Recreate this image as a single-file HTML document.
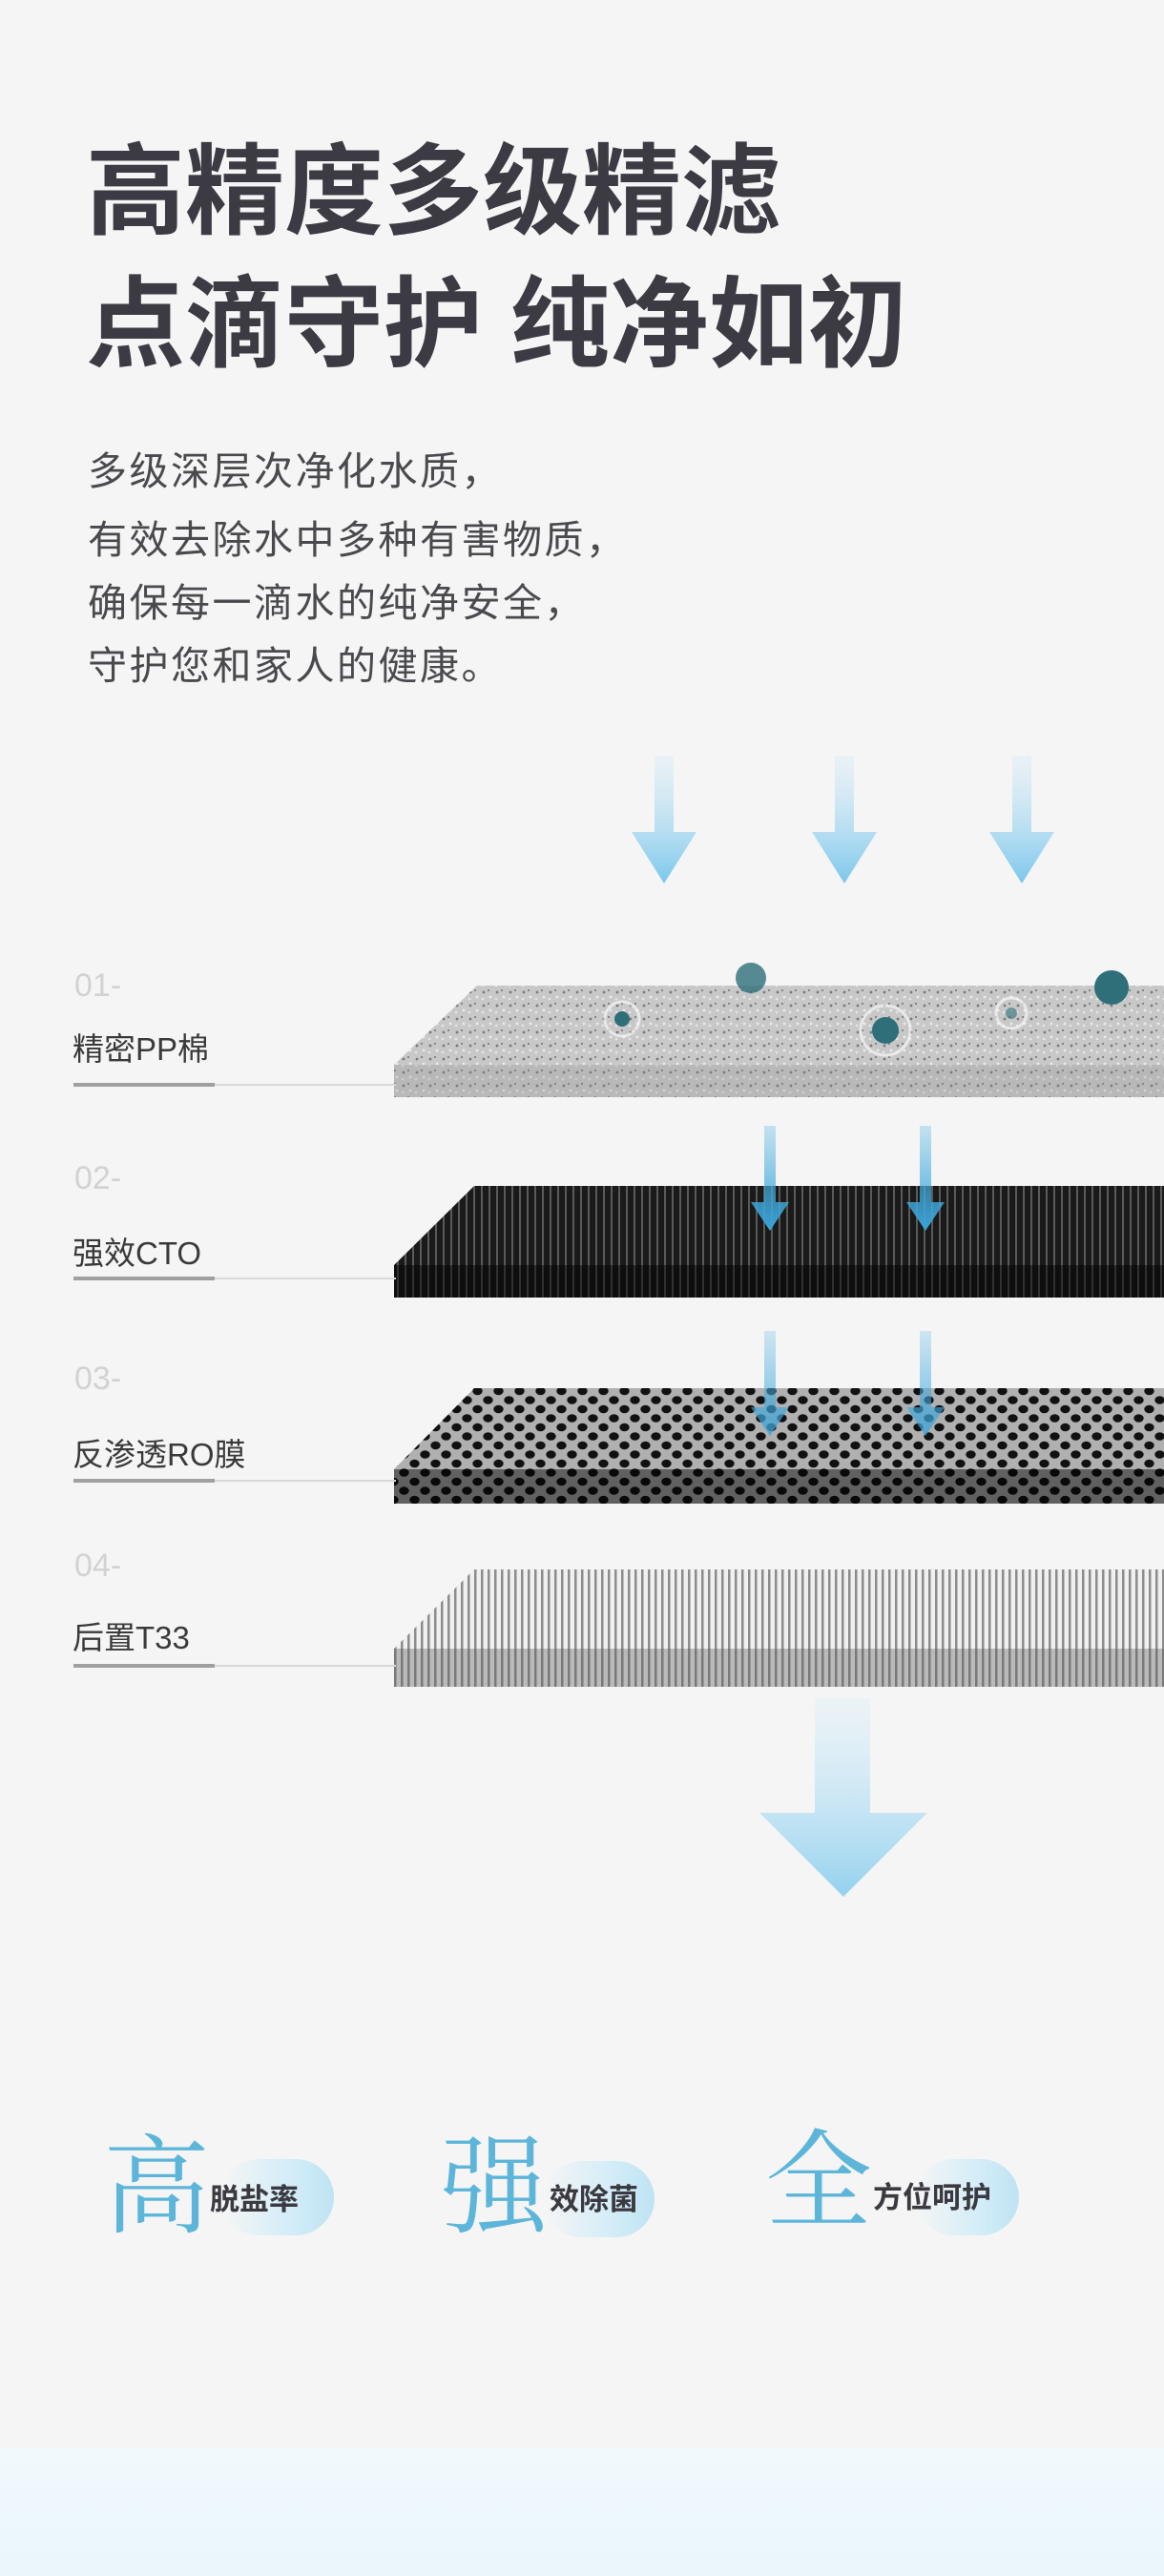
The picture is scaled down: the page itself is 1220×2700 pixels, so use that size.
<!DOCTYPE html>
<html><head><meta charset="utf-8"><style>
*{margin:0;padding:0}
body{width:1220px;height:2700px;background:#f5f5f5;position:relative;overflow:hidden;font-family:"Liberation Sans","Noto Sans CJK SC",sans-serif}
.t{position:absolute;left:90px;font-size:104px;font-weight:bold;color:#3c3b44;letter-spacing:0px;white-space:nowrap;line-height:1}
.p{position:absolute;left:92px;font-size:41px;color:#4a4a4e;letter-spacing:2.5px;white-space:nowrap;line-height:1}
.n{position:absolute;left:78px;font-size:34px;color:#d2d2d2;line-height:1}
.l{position:absolute;left:76px;font-size:33px;color:#3a3a3a;line-height:1;white-space:nowrap}
.u{position:absolute;left:77px;width:148px;height:4px;background:#a0a0a0}
.u2{position:absolute;left:225px;width:190px;height:2px;background:#d8d8d8}
.big{position:absolute;font-family:"Noto Serif CJK SC",serif;font-size:112px;color:#5db6da;line-height:1}
.pill{position:absolute;height:80px;border-radius:40px;background:linear-gradient(90deg,rgba(200,232,245,0) 0%,#d4edf8 60%,#bfe3f3 100%)}
.pt{position:absolute;font-size:31px;font-weight:bold;color:#3a3a40;line-height:1;white-space:nowrap}
</style></head><body>
<div class="t" style="top:150px">高精度多级精滤</div>
<div class="t" style="top:289px">点滴守护 纯净如初</div>
<div class="p" style="top:474px">多级深层次净化水质，</div>
<div class="p" style="top:546px">有效去除水中多种有害物质，</div>
<div class="p" style="top:612px">确保每一滴水的纯净安全，</div>
<div class="p" style="top:678px">守护您和家人的健康。</div>

<svg width="1220" height="2700" style="position:absolute;left:0;top:0" xmlns="http://www.w3.org/2000/svg">
<defs>
<linearGradient id="ag" x1="0" y1="0" x2="0" y2="1"><stop offset="0" stop-color="#bfe3f5" stop-opacity="0.2"/><stop offset="1" stop-color="#7cc7ec"/></linearGradient>
<linearGradient id="bg2" x1="0" y1="0" x2="0" y2="1"><stop offset="0" stop-color="#d7eef9" stop-opacity="0.3"/><stop offset="1" stop-color="#93d1ef"/></linearGradient>
<linearGradient id="sg" x1="0" y1="0" x2="0" y2="1"><stop offset="0" stop-color="#4fb3e3" stop-opacity="0.3"/><stop offset="1" stop-color="#3aa3d8"/></linearGradient>
<pattern id="speck" width="14" height="14" patternUnits="userSpaceOnUse"><rect width="14" height="14" fill="#c8c8c8"/><circle cx="3" cy="4" r="1.4" fill="#7a7a7a"/><circle cx="10" cy="9" r="1.4" fill="#ececec"/><circle cx="8" cy="2" r="0.9" fill="#555"/><circle cx="2" cy="11" r="1.3" fill="#e6e6e6"/></pattern>
<pattern id="stripe" width="8" height="8" patternUnits="userSpaceOnUse"><rect width="8" height="8" fill="#1a1a1a"/><rect x="0" width="2" height="8" fill="#5a5a5a"/></pattern>
<pattern id="hex" width="22" height="19" patternUnits="userSpaceOnUse"><rect width="22" height="19" fill="#b0b0b0"/><ellipse cx="5.5" cy="4.5" rx="5.2" ry="4.3" fill="#111"/><ellipse cx="16.5" cy="14" rx="5.2" ry="4.3" fill="#111"/><ellipse cx="16.5" cy="-5" rx="5.2" ry="4.3" fill="#111"/><ellipse cx="5.5" cy="23.5" rx="5.2" ry="4.3" fill="#111"/><ellipse cx="-5.5" cy="14" rx="5.2" ry="4.3" fill="#111"/><ellipse cx="27.5" cy="4.5" rx="5.2" ry="4.3" fill="#111"/></pattern>
<pattern id="wstripe" width="7" height="7" patternUnits="userSpaceOnUse"><rect width="7" height="7" fill="#f0f0f0"/><rect width="2.5" height="7" fill="#8c8c8c"/></pattern>
</defs>
<g fill="url(#ag)">
<path d="M686 792h20v80h24l-34 54-34-54h24z"/>
<path d="M875 792h20v80h24l-34 54-34-54h24z"/>
<path d="M1061 792h20v80h24l-34 54-34-54h24z"/>
</g>
<path d="M500 1033H1220V1116H413Z" fill="url(#speck)"/>
<rect x="413" y="1116" width="807" height="34" fill="url(#speck)"/><rect x="413" y="1116" width="807" height="34" fill="#888" opacity="0.25"/>
<g fill="#2e6f7a"><circle cx="787" cy="1025" r="16" opacity=".8"/><circle cx="928" cy="1080" r="14"/><circle cx="1165" cy="1035" r="18"/><circle cx="652" cy="1068" r="8"/><circle cx="1060" cy="1062" r="6" opacity=".6"/></g>
<g fill="none" stroke="#fff" stroke-opacity=".6" stroke-width="3"><circle cx="928" cy="1080" r="26"/><circle cx="652" cy="1068" r="18"/><circle cx="1060" cy="1062" r="16"/></g>
<path d="M497 1243H1220V1326H413Z" fill="url(#stripe)"/>
<rect x="413" y="1326" width="807" height="34" fill="url(#stripe)"/><rect x="413" y="1326" width="807" height="34" fill="#000" opacity=".45"/>
<path d="M497 1455H1220V1540H413Z" fill="url(#hex)"/>
<rect x="413" y="1540" width="807" height="36" fill="url(#hex)"/><rect x="413" y="1540" width="807" height="36" fill="#000" opacity=".45"/>
<path d="M497 1645H1220V1728H413Z" fill="url(#wstripe)"/>
<rect x="413" y="1728" width="807" height="40" fill="url(#wstripe)"/><rect x="413" y="1728" width="807" height="40" fill="#555" opacity=".35"/>
<g fill="url(#sg)">
<path d="M801 1180h12v80h14l-20 30-20-30h14z"/>
<path d="M964 1180h12v80h14l-20 30-20-30h14z"/>
<path d="M801 1395h12v80h14l-20 30-20-30h14z" opacity=".8"/>
<path d="M964 1395h12v80h14l-20 30-20-30h14z" opacity=".8"/>
</g>
<path d="M854 1780h58v120h60l-88 88-88-88h58z" fill="url(#bg2)"/>
</svg>

<div class="n" style="top:1016px">01-</div><div class="l" style="top:1083px">精密PP棉</div><div class="u" style="top:1135px"></div><div class="u2" style="top:1136px"></div>
<div class="n" style="top:1218px">02-</div><div class="l" style="top:1297px">强效CTO</div><div class="u" style="top:1338px"></div><div class="u2" style="top:1339px"></div>
<div class="n" style="top:1428px">03-</div><div class="l" style="top:1508px">反渗透RO膜</div><div class="u" style="top:1550px"></div><div class="u2" style="top:1551px"></div>
<div class="n" style="top:1624px">04-</div><div class="l" style="top:1700px">后置T33</div><div class="u" style="top:1744px"></div><div class="u2" style="top:1745px"></div>

<div class="pill" style="left:232px;top:2263px;width:118px"></div>
<div class="big" style="left:108px;top:2228px">高</div><div class="pt" style="left:220px;top:2290px">脱盐率</div>
<div class="pill" style="left:570px;top:2265px;width:116px"></div>
<div class="big" style="left:462px;top:2228px">强</div><div class="pt" style="left:576px;top:2290px">效除菌</div>
<div class="pill" style="left:960px;top:2263px;width:108px"></div>
<div class="big" style="left:802px;top:2222px">全</div><div class="pt" style="left:915px;top:2288px">方位呵护</div>

<div style="position:absolute;left:0;top:2565px;width:1220px;height:135px;background:linear-gradient(180deg,#f1f9fc,#eaf6fb)"></div>
</body></html>
